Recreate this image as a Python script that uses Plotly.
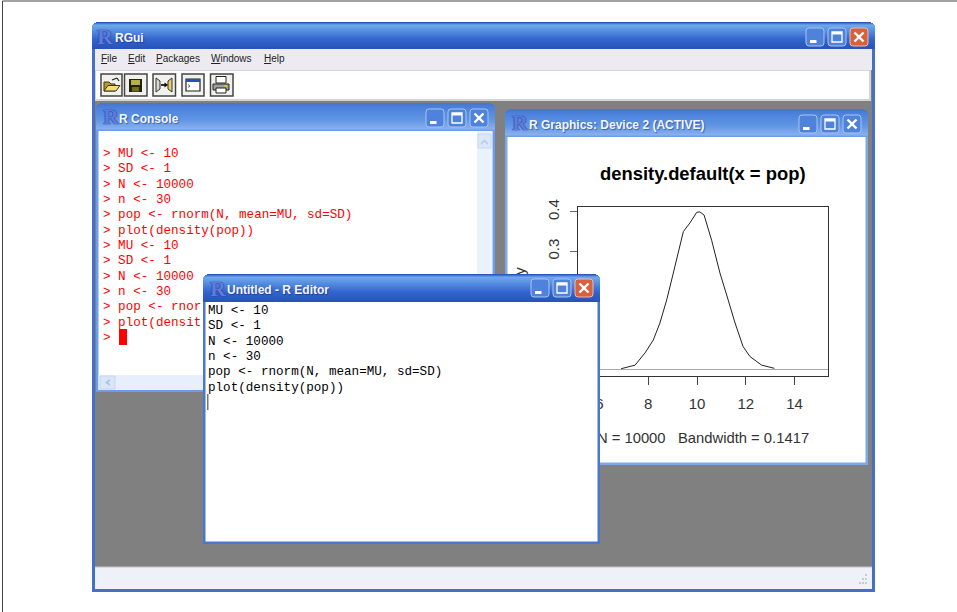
import plotly.graph_objects as go

# ---------- data ----------
density_x = [6.89, 7.46, 7.87, 8.21, 8.48, 8.76, 9.03, 9.44, 9.71, 9.99, 10.12, 10.29, 10.60, 10.94, 11.28, 11.56, 11.89, 12.17, 12.65, 13.17]
density_y = [0.002, 0.011, 0.042, 0.075, 0.118, 0.177, 0.245, 0.350, 0.372, 0.399, 0.400, 0.392, 0.328, 0.245, 0.176, 0.118, 0.058, 0.033, 0.011, 0.003]
x_ticks = [6, 8, 10, 12, 14]
y_ticks = [0.0, 0.1, 0.2, 0.3, 0.4]
y_tick_labels = ["0.0", "0.1", "0.2", "0.3", "0.4"]
plot_title = "density.default(x = pop)"
x_label = "N = 10000   Bandwidth = 0.1417"
y_label = "Density"
console_lines = ["> MU <- 10", "> SD <- 1", "> N <- 10000", "> n <- 30",
                 "> pop <- rnorm(N, mean=MU, sd=SD)", "> plot(density(pop))",
                 "> MU <- 10", "> SD <- 1", "> N <- 10000", "> n <- 30",
                 "> pop <- rnor", "> plot(densit", ">"]
editor_lines = ["MU <- 10", "SD <- 1", "N <- 10000", "n <- 30",
                "pop <- rnorm(N, mean=MU, sd=SD)", "plot(density(pop))"]
menu_items = [("<u>F</u>ile", 98.5), ("<u>E</u>dit", 125.5), ("<u>P</u>ackages", 153.5), ("<u>W</u>indows", 208.5), ("<u>H</u>elp", 261.5)]

W, H = 957, 612
SANS = "Liberation Sans"
MONO = "Liberation Mono"
shapes, notes = [], []

def X(p): return p / W
def Y(p): return 1 - p / H

def rect(x0, y0, x1, y1, fill=None, line=None, lw=1, layer="below"):
    shapes.append(dict(type="rect", xref="paper", yref="paper", x0=X(x0), x1=X(x1), y0=Y(y0), y1=Y(y1),
                       fillcolor=fill or "rgba(0,0,0,0)", line=dict(color=line or "rgba(0,0,0,0)", width=lw if line else 0), layer=layer))

def rrect(x0, y0, x1, y1, r, fill, line, layer="below"):
    pts = lambda a, b: f"{X(a):.5f},{Y(b):.5f}"
    path = (f"M {pts(x0 + r, y0)} L {pts(x1 - r, y0)} Q {pts(x1, y0)} {pts(x1, y0 + r)} L {pts(x1, y1 - r)} "
            f"Q {pts(x1, y1)} {pts(x1 - r, y1)} L {pts(x0 + r, y1)} Q {pts(x0, y1)} {pts(x0, y1 - r)} "
            f"L {pts(x0, y0 + r)} Q {pts(x0, y0)} {pts(x0 + r, y0)} Z")
    shapes.append(dict(type="path", xref="paper", yref="paper", path=path, fillcolor=fill,
                       line=dict(color=line, width=1), layer=layer))

def seg(x0, y0, x1, y1, color, lw=1, layer="below"):
    shapes.append(dict(type="line", xref="paper", yref="paper", x0=X(x0), x1=X(x1), y0=Y(y0), y1=Y(y1),
                       line=dict(color=color, width=lw), layer=layer))

def poly(pts, fill, line=None, layer="below"):
    path = "M " + " L ".join(f"{X(a):.5f},{Y(b):.5f}" for a, b in pts) + " Z"
    shapes.append(dict(type="path", xref="paper", yref="paper", path=path, fillcolor=fill,
                       line=dict(color=line or "rgba(0,0,0,0)", width=1 if line else 0), layer=layer))

def text(t, x, y, size, color, family=SANS, anchor="left", shadow=None):
    f = dict(size=size, color=color, family=family)
    if shadow:
        f["shadow"] = shadow
    notes.append(dict(text=t, xref="paper", yref="paper", x=X(x), y=Y(y), xanchor=anchor, yanchor="middle",
                      showarrow=False, font=f, align="left"))

def lerp(c0, c1, t):
    return tuple(c0[i] + (c1[i] - c0[i]) * t for i in range(3))

def titlebar(x0, x1, y0, y1, stops, layer):
    n = int(y1 - y0)
    for i in range(n):
        t = i / max(n - 1, 1)
        for j in range(len(stops) - 1):
            if stops[j][0] <= t <= stops[j + 1][0]:
                a, b = stops[j], stops[j + 1]
                c = lerp(a[1], b[1], (t - a[0]) / max(b[0] - a[0], 1e-6))
                break
        inset = {0: 4, 1: 2, 2: 1}.get(i, 0)
        rect(x0 + inset, y0 + i, x1 - inset, y0 + i + 1, "rgb(%d,%d,%d)" % c, layer=layer)

ACTIVE = [(0, (42, 88, 190)), (0.1, (110, 170, 236)), (0.3, (88, 145, 226)), (0.65, (52, 100, 205)), (1, (40, 84, 186))]
INACTIVE = [(0, (72, 118, 208)), (0.15, (76, 130, 220)), (0.6, (96, 150, 228)), (0.93, (135, 176, 238)), (1, (110, 158, 232))]

def button(x, y, s, kind, red=False, layer="below"):
    fill = "#D9603C" if red else "#4F82DA"
    rrect(x, y, x + s, y + s, 3, fill, "#E9BFAF" if red else "#A9C4F0", layer)
    if kind == "min":
        rect(x + 4, y + s - 6, x + 10.5, y + s - 3, "#FFFFFF", layer=layer)
    elif kind == "max":
        rect(x + 4, y + 4, x + s - 4, y + s - 4, None, "#FFFFFF", 1.3, layer)
        rect(x + 4, y + 4, x + s - 4, y + 6.5, "#FFFFFF", layer=layer)
    else:
        seg(x + 4.5, y + 4.5, x + s - 4.5, y + s - 4.5, "#FFFFFF", 2.4, layer)
        seg(x + s - 4.5, y + 4.5, x + 4.5, y + s - 4.5, "#FFFFFF", 2.4, layer)

def logo(x, y, size=22):
    text("<b>R</b>", x, y, size, "#5F7DD8", "Liberation Serif", shadow="0 0 1px #1E2F9C, 0 0 1px #1E2F9C")

TITLE_SHADOW = "1px 1px 1px rgba(20,40,120,0.55)"

def window(x0, y0, x1, y1, tb, title, tx, stops, frame, layer, red=False, by=None, bs=18):
    rect(x0, y0 + 4, x1, y1, frame, layer=layer)
    titlebar(x0, x1, y0, tb, stops, layer)
    rect(x0 + 2.5, tb, x1 - 2.5, y1 - 2.5, "#FFFFFF", layer=layer)
    bx = x1 - 69
    button(bx, by, bs, "min", layer=layer)
    button(bx + 22, by, bs, "max", layer=layer)
    button(bx + 44, by, bs, "close", red=red, layer=layer)
    logo(x0 + 4.5, (y0 + tb) / 2)
    text("<b>" + title + "</b>", tx, (y0 + tb) / 2 + 2, 12, "#F2F7FF", shadow=TITLE_SHADOW)

# ---------- page border ----------
seg(2.5, 1, W, 1, "#444444")
seg(2.5, 1, 2.5, H, "#444444")

# ---------- main RGui window ----------
rect(92, 26, 875, 592, "#4470C8")
titlebar(92, 875, 22, 49, ACTIVE, "below")
rect(95, 49, 872, 589, "#808080")
rect(95, 49, 872, 70, "#EDEBF1")
rect(95, 70, 871, 101, "#D4D4D4")
rect(96, 71, 869, 99, "#FFFFFF")
rect(95, 567, 872, 589, "#EEF1F7")
seg(95, 567, 872, 567, "#C4C4C4")
for gx, gy in [(865, 574), (862, 578), (865, 578), (859, 582), (862, 582), (865, 582)]:
    rect(gx, gy, gx + 2, gy + 2, "#C9CBD1")
button(806, 28, 18, "min")
button(828, 28, 18, "max")
button(850, 28, 18, "close", red=True)
logo(95, 36)
text("<b>RGui</b>", 113, 37.5, 12, "#F4F8FF", shadow=TITLE_SHADOW)
for label, mx in menu_items:
    text(label, mx, 58.5, 10, "#222222")

# toolbar buttons
for bx0, bx1 in [(101, 122), (124.5, 147), (153, 175.5), (182, 204), (210.5, 233)]:
    rect(bx0, 74, bx1, 96, "#F1F1ED", "#444444", 1.5)
# open folder
poly([(104, 91), (104, 82), (109, 82), (111, 84), (115, 84), (115, 91)], "#B89A2E", "#3E3612")
poly([(104, 91), (108, 85.5), (120, 85.5), (116, 91)], "#F2DE74", "#3E3612")
seg(112, 80, 117, 78, "#222222", 1.2)
seg(117, 78, 119, 81, "#222222", 1.2)
# floppy
rect(129, 79, 142, 92, "#23230C")
rect(131, 80, 140, 85, "#B5B04A")
rect(132, 87, 139, 91.5, "#6F6F22")
# load/arrow
poly([(156, 78), (160, 81), (160, 89), (156, 92)], "#D8D8D0", "#333333")
poly([(172, 78), (168, 81), (168, 89), (172, 92)], "#E6D26A", "#333333")
seg(161, 85, 166, 85, "#000000", 1.6)
poly([(164.5, 82.5), (168, 85), (164.5, 87.5)], "#000000")
# console icon
rect(186, 79, 200, 91, "#FFFFFF", "#222222", 1.2)
rect(186, 79, 200, 82, "#2A4FB0")
seg(188, 84.5, 190, 86, "#444444", 0.8)
seg(190, 86, 188, 87.5, "#444444", 0.8)
# printer
rect(216, 76.5, 226, 83, "#FFFFFF", "#222222")
poly([(213, 90), (213, 84), (229, 84), (229, 90)], "#9F9F9F", "#222222")
rect(216, 88, 226, 93, "#FFFFFF", "#222222")
rect(224, 85, 227, 87, "#D8C030")

# ---------- console window ----------
window(96, 103, 495, 392, 131, "R Console", 117, INACTIVE, "#6B9DE8", "below", by=109)
rect(477, 131, 492, 375, "#E9F2FD")
rect(478, 134, 491, 148, "#DCE8FA", "#C3D6F3")
poly([(481, 143), (484.5, 139.5), (488, 143), (488, 145), (484.5, 141.5), (481, 145)], "#B3C8E8")
rect(98.5, 375, 492, 390, "#E6EFFB")
rect(100, 376, 115, 389, "#D9E6F9", "#C3D6F3")
poly([(110, 379), (105, 382.5), (110, 386), (110, 384), (108, 382.5), (110, 381)], "#A9C0E6")
rect(119, 329, 127, 345, "#FF0000")

# ---------- graphics device window ----------
window(505, 109, 868, 465, 137, "R Graphics: Device 2 (ACTIVE)", 527, INACTIVE, "#7DA9EA", "below", by=115)
text("<b>" + plot_title + "</b>", 703, 173.5, 18.4, "#000000", anchor="center")

# ---------- editor window (above the plot) ----------
window(203, 274, 600, 544, 302, "Untitled - R Editor", 225, ACTIVE, "#4A76CF", "above", red=True, by=279)
rect(207.2, 394, 208.4, 410, "#555555", layer="above")
for i, line in enumerate(editor_lines):
    text(line, 206, 311 + i * 15.3, 12.6, "#000000", MONO)

# ---------- traces ----------
x_rng = [10 + (578 - 697) / 24.4, 10 + (828 - 697) / 24.4]
y_rng = [(369.5 - 376) / 394, (369.5 - 207) / 394]
fig = go.Figure()
fig.add_trace(go.Scatter(x=[103] * len(console_lines), y=[154 + i * 15.33 for i in range(len(console_lines))],
                         text=console_lines, mode="text", textposition="middle right",
                         textfont=dict(family=MONO, size=12.6, color="#FF0000"),
                         xaxis="x", yaxis="y", hoverinfo="skip"))
fig.add_trace(go.Scatter(x=density_x, y=density_y, mode="lines", line=dict(color="#222222", width=1),
                         xaxis="x2", yaxis="y2", hoverinfo="skip"))
fig.add_trace(go.Scatter(x=[(x_rng[0] + x_rng[1]) / 2], y=[(y_rng[0] + y_rng[1]) / 2], mode="lines",
                         line=dict(width=0), xaxis="x3", yaxis="y3", hoverinfo="skip"))

xdom = [578 / W, 828 / W]
ydom = [1 - 376 / H, 1 - 207 / H]
tick_font = dict(family=SANS, size=15, color="#333333")
fig.update_layout(
    template="none",
    width=W, height=H, margin=dict(l=0, r=0, t=0, b=0, pad=0, autoexpand=False), paper_bgcolor="#FFFFFF", plot_bgcolor="rgba(0,0,0,0)",
    showlegend=False, hovermode=False, shapes=shapes, annotations=notes,
    xaxis=dict(domain=[0, 1], range=[0, W], visible=False, fixedrange=True),
    yaxis=dict(domain=[0, 1], range=[H, 0], visible=False, fixedrange=True),
    xaxis2=dict(domain=xdom, range=x_rng, anchor="y2", tickvals=x_ticks, ticks="outside", ticklen=8, tickcolor="#444444",
                showline=True, mirror=True, linecolor="#333333", linewidth=1, showgrid=False, zeroline=False,
                tickfont=tick_font, ticklabelstandoff=6, fixedrange=True),
    yaxis2=dict(domain=ydom, range=y_rng, anchor="x2", tickvals=y_ticks, ticktext=y_tick_labels, ticks="outside", ticklen=7,
                tickcolor="#666666", tickangle=-90, showline=True, mirror=True, linecolor="#333333", linewidth=1,
                showgrid=False, zeroline=True, zerolinecolor="#AAAAAA", zerolinewidth=1, tickfont=tick_font,
                ticklabelstandoff=5, fixedrange=True),
    xaxis3=dict(domain=xdom, range=x_rng, anchor="y3", overlaying="x2", tickvals=[(x_rng[0] + x_rng[1]) / 2], ticktext=[x_label],
                ticks="", showline=False, showgrid=False, zeroline=False, tickfont=dict(family=SANS, size=14.8, color="#333333"),
                ticklabelstandoff=51, fixedrange=True),
    yaxis3=dict(domain=ydom, range=y_rng, anchor="x3", overlaying="y2", tickvals=[(y_rng[0] + y_rng[1]) / 2 - 3 / 394], ticktext=[y_label],
                ticks="", showline=False, showgrid=False, zeroline=False, tickangle=-90, tickfont=tick_font,
                ticklabelstandoff=49, fixedrange=True),
)
fig.write_html("out.html", config=dict(displayModeBar=False), post_script="document.body.style.margin='0';")
